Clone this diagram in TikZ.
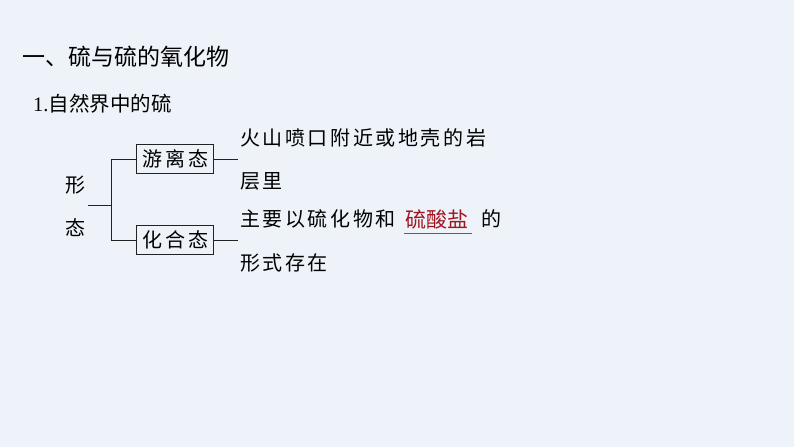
\documentclass[tikz,border=0pt]{standalone}
\usepackage{fontspec}
\setmainfont{Noto Sans CJK SC}
\newfontfamily\cjk{Noto Sans CJK SC}
\newfontfamily\cjkbody[LetterSpace=13]{Noto Sans CJK SC}
\newfontfamily\numfont{Liberation Serif}
\definecolor{bgcol}{HTML}{EEF3FA}
\definecolor{redtxt}{HTML}{A3141E}
\definecolor{linecol}{HTML}{222222}
\begin{document}
\begin{tikzpicture}[x=1pt,y=-1pt,
  txt/.style={anchor=west,inner sep=0pt,font=\cjkbody\fontsize{20}{20}\selectfont,text=black},
  boxnode/.style={draw=linecol,line width=0.8pt,minimum width=77pt,minimum height=29pt,inner sep=0pt,font=\cjkbody\fontsize{20}{20}\selectfont},
  conn/.style={draw=linecol,line width=0.8pt}]
\fill[bgcol] (0,0) rectangle (794,447);
\useasboundingbox (0,0) rectangle (794,447);
\node[anchor=west,inner sep=0pt,font=\cjk\fontsize{23}{23}\selectfont] (title) at (22,57) {一、硫与硫的氧化物};
\node[anchor=west,inner sep=0pt,font=\cjk\fontsize{20.5}{20.5}\selectfont] (sub) at (33,104) {{\numfont 1.}自然界中的硫};
\node[txt] (xing) at (65,185) {形};
\node[txt] (tai) at (65,228) {态};
\node[boxnode] (you) at (174.5,159) {\hspace*{2pt}游离态};
\node[boxnode] (hua) at (174.5,240) {\hspace*{2pt}化合态};
\coordinate (stub) at (88,205);
\coordinate (mid) at (111,205);
\coordinate (ytop) at (111,159);
\coordinate (ybot) at (111,240);
\coordinate (e1) at (238,159);
\coordinate (e2) at (238,240);
\draw[conn] (stub) -- (mid);
\draw[conn] (ytop) -- (ybot);
\draw[conn] (ytop) -- (you.west);
\draw[conn] (ybot) -- (hua.west);
\draw[conn] (you.east) -- (e1);
\draw[conn] (hua.east) -- (e2);
\node[txt] (l1) at (240,138) {火山喷口附近或地壳的岩};
\node[txt] (l2) at (240,181) {层里};
\node[txt] (l3) at (240,219) {主要以硫化物和};
\node[anchor=west,inner sep=0pt,font=\cjk\fontsize{21}{21}\selectfont,text=redtxt] (ans) at (405,219) {硫酸盐};
\coordinate (u1) at (404,233);
\coordinate (u2) at (472,233);
\draw[draw=redtxt!50!gray,line width=0.9pt] (u1) -- (u2);
\node[txt] (l3b) at (481,219) {的};
\node[txt] (l4) at (240,263) {形式存在};
\end{tikzpicture}
\end{document}
